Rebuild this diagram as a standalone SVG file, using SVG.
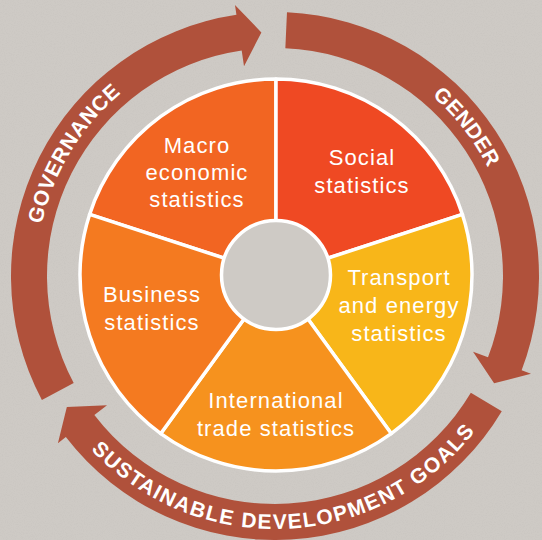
<svg xmlns="http://www.w3.org/2000/svg" width="542" height="540" viewBox="0 0 542 540">
  <defs>
    <style>
      .bg { fill: #cecac5; }
      .slice { stroke: #ffffff; stroke-width: 3.5; stroke-linejoin: round; }
      .label { font-family: "Liberation Sans", Arial, Helvetica, sans-serif; font-size: 22px; fill: #ffffff; text-anchor: middle; letter-spacing: 1.1px; }
      .band { fill: #b0513b; }
      .arc-label { font-family: "Liberation Sans", Arial, Helvetica, sans-serif; font-size: 21px; font-weight: bold; fill: #ffffff; }
    </style>
    <filter id="paper" x="0" y="0" width="100%" height="100%">
      <feTurbulence type="fractalNoise" baseFrequency="0.9" numOctaves="2" seed="3" result="n"/>
      <feColorMatrix type="matrix" values="0 0 0 0 0.45  0 0 0 0 0.43  0 0 0 0 0.41  0 0 0 -1.1 0.62"/>
    </filter>
    <path id="p-gov" d="M 65.46 390.96 A 239 239 0 0 1 280.21 37.06"/>
    <path id="p-gender" d="M 242.15 39.27 A 239 239 0 0 1 496.44 365.92"/>
    <path id="p-sdg" d="M 28.39 332.48 A 253 253 0 0 0 526.06 307.27"/>
  </defs>

  <rect class="bg" x="0" y="0" width="542" height="540"/>
  <rect x="0" y="0" width="542" height="540" filter="url(#paper)" opacity="0.3"/>

  <g id="connectors">
    <g id="arrow-governance">
      <path class="band" d="M 41.90 399.94 A 264 264 0 0 1 236.43 14.83 L 234.97 4.94 L 261.38 32.38 L 244.03 66.27 L 241.69 50.45 A 228 228 0 0 0 73.69 383.04 Z"/>
      <text class="arc-label" letter-spacing="0.6"><textPath href="#p-gov" startOffset="50%" text-anchor="middle">GOVERNANCE</textPath></text>
    </g>
    <g id="arrow-gender">
      <path class="band" d="M 286.98 12.27 A 264 264 0 0 1 521.63 370.18 L 530.97 373.75 L 494.12 383.35 L 473.05 351.63 L 488.00 357.34 A 228 228 0 0 0 285.34 48.23 Z"/>
      <text class="arc-label" letter-spacing="0.3"><textPath href="#p-gender" startOffset="50%" text-anchor="middle">GENDER</textPath></text>
    </g>
    <g id="arrow-sdg">
      <path class="band" d="M 501.77 411.18 A 264 264 0 0 1 65.84 437.08 L 57.91 443.18 L 66.84 407.08 L 107.03 405.35 L 94.36 415.11 A 228 228 0 0 0 470.84 392.75 Z"/>
      <text class="arc-label" letter-spacing="1.5"><textPath href="#p-sdg" startOffset="50%" text-anchor="middle">SUSTAINABLE DEVELOPMENT GOALS</textPath></text>
    </g>
  </g>

  <g id="pie">
    <g id="macro-economic">
      <path class="slice" fill="#f26522" d="M 276 275 L 89.59 214.43 A 196 196 0 0 1 276 79 Z"/>
      <text class="label" x="197" y="153">Macro</text>
      <text class="label" x="197" y="180">economic</text>
      <text class="label" x="197" y="207">statistics</text>
    </g>
    <g id="social">
      <path class="slice" fill="#ef4923" d="M 276 275 L 276 79 A 196 196 0 0 1 462.41 214.43 Z"/>
      <text class="label" x="362" y="165">Social</text>
      <text class="label" x="362" y="193">statistics</text>
    </g>
    <g id="transport-energy">
      <path class="slice" fill="#f8b619" d="M 276 275 L 462.41 214.43 A 196 196 0 0 1 391.21 433.57 Z"/>
      <text class="label" x="399" y="285">Transport</text>
      <text class="label" x="399" y="313">and energy</text>
      <text class="label" x="399" y="341">statistics</text>
    </g>
    <g id="international-trade">
      <path class="slice" fill="#f6921e" d="M 276 275 L 391.21 433.57 A 196 196 0 0 1 160.79 433.57 Z"/>
      <text class="label" x="276" y="408">International</text>
      <text class="label" x="276" y="436">trade statistics</text>
    </g>
    <g id="business">
      <path class="slice" fill="#f47a20" d="M 276 275 L 160.79 433.57 A 196 196 0 0 1 89.59 214.43 Z"/>
      <text class="label" x="152" y="302">Business</text>
      <text class="label" x="152" y="330">statistics</text>
    </g>
    <g id="hub">
      <circle class="bg" cx="276" cy="275" r="54.5" stroke="#ffffff" stroke-width="3.5"/>
    </g>
  </g>
</svg>
